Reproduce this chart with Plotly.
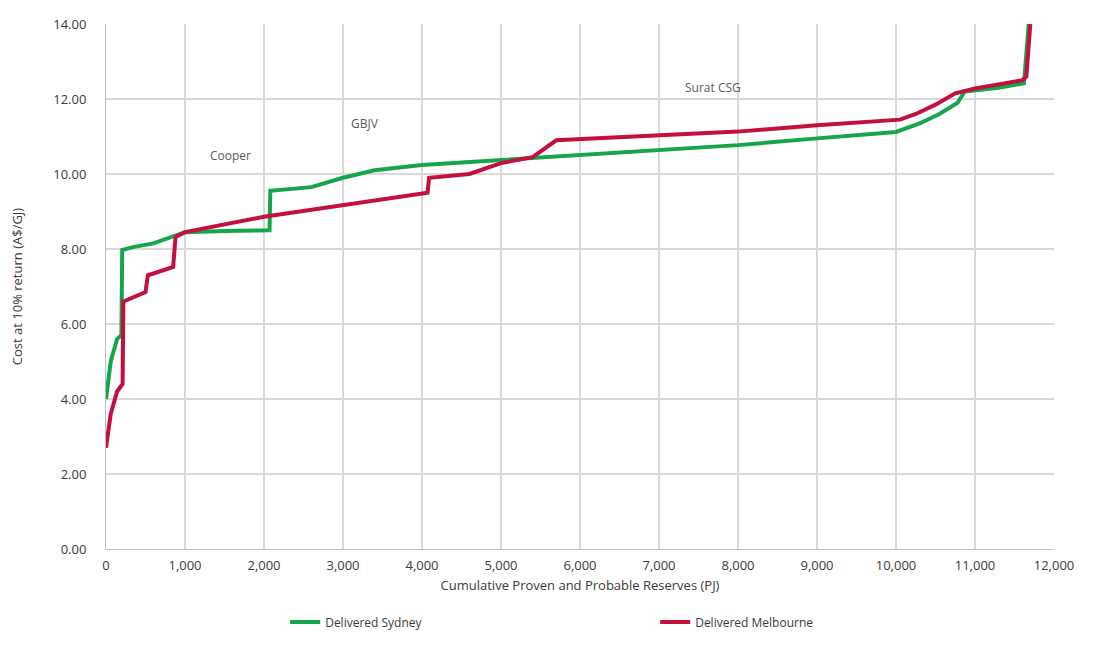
import plotly.graph_objects as go

# Cumulative reserves (PJ) and cost (A$/GJ) - Delivered Sydney
syd_x = [0, 60, 140, 195, 205, 340, 600, 850, 1000, 1500, 2070, 2080, 2600, 3000, 3400,
         4000, 5000, 6000, 7000, 8000, 9000, 10000, 10300, 10550, 10780, 10870, 11300, 11620, 11680]
syd_y = [4.0, 5.0, 5.6, 5.7, 7.97, 8.05, 8.15, 8.35, 8.45, 8.48, 8.5, 9.55, 9.65, 9.9, 10.1,
         10.24, 10.37, 10.5, 10.64, 10.77, 10.95, 11.12, 11.35, 11.6, 11.9, 12.2, 12.3, 12.42, 14.0]

# Delivered Melbourne
mel_x = [0, 60, 140, 210, 220, 500, 530, 850, 880, 1000, 2000, 3000, 4070, 4090, 4600,
         5000, 5400, 5700, 6000, 7000, 8000, 9000, 10050, 10250, 10500, 10750, 11000, 11600, 11650, 11700]
mel_y = [2.7, 3.6, 4.2, 4.4, 6.6, 6.85, 7.3, 7.52, 8.32, 8.45, 8.86, 9.16, 9.5, 9.9, 10.0,
         10.29, 10.45, 10.9, 10.93, 11.04, 11.13, 11.3, 11.45, 11.6, 11.85, 12.15, 12.28, 12.5, 12.6, 14.0]

labels = ["Cooper", "GBJV", "Surat CSG"]
label_x = [1570, 3280, 7680]
label_y = [10.5, 11.36, 12.3]

x_ticks = list(range(0, 12001, 1000))
y_ticks = [0, 2, 4, 6, 8, 10, 12, 14]

font_family = "Open Sans, Liberation Sans, sans-serif"
txt = "#3a3a3a"

fig = go.Figure()
fig.add_trace(go.Scatter(x=syd_x, y=syd_y, mode="lines", name="Delivered Sydney",
                         line=dict(color="#16a64a", width=4)))
fig.add_trace(go.Scatter(x=mel_x, y=mel_y, mode="lines", name="Delivered Melbourne",
                         line=dict(color="#c4103f", width=4)))

for t, xx, yy in zip(labels, label_x, label_y):
    fig.add_annotation(x=xx, y=yy, text=t, showarrow=False,
                       font=dict(size=12, color="#595959", family=font_family))

fig.update_layout(
    width=1095, height=664,
    margin=dict(l=98, r=49, t=16, b=123, autoexpand=False),
    paper_bgcolor="white", plot_bgcolor="white",
    font=dict(family=font_family, color=txt, size=13),
    showlegend=True,
    legend=dict(orientation="h", x=0.189, y=-0.139, xanchor="left", yanchor="middle",
                font=dict(size=12, color=txt), entrywidth=325, entrywidthmode="pixels",
                itemwidth=30),
    xaxis=dict(range=[0, 12000], tickvals=x_ticks, tickformat=",d",
               showgrid=True, gridcolor="#d9d9d9", gridwidth=1.5,
               showline=True, linecolor="#bfbfbf", zeroline=False,
               ticks="outside", ticklen=4, tickcolor="rgba(0,0,0,0)",
               tickfont=dict(size=13, color=txt),
               title=dict(text="Cumulative Proven and Probable Reserves (PJ)",
                          font=dict(size=13, color=txt), standoff=8)),
    yaxis=dict(range=[0, 14], tickvals=y_ticks, tickformat=".2f",
               showgrid=True, gridcolor="#d9d9d9", gridwidth=1.5,
               showline=True, linecolor="#bfbfbf", zeroline=False,
               ticks="outside", ticklen=16, tickcolor="rgba(0,0,0,0)",
               tickfont=dict(size=13, color=txt),
               title=dict(text="Cost at 10% return (A$/GJ)",
                          font=dict(size=13, color=txt), standoff=27)),
)

fig.write_html("out.html")
